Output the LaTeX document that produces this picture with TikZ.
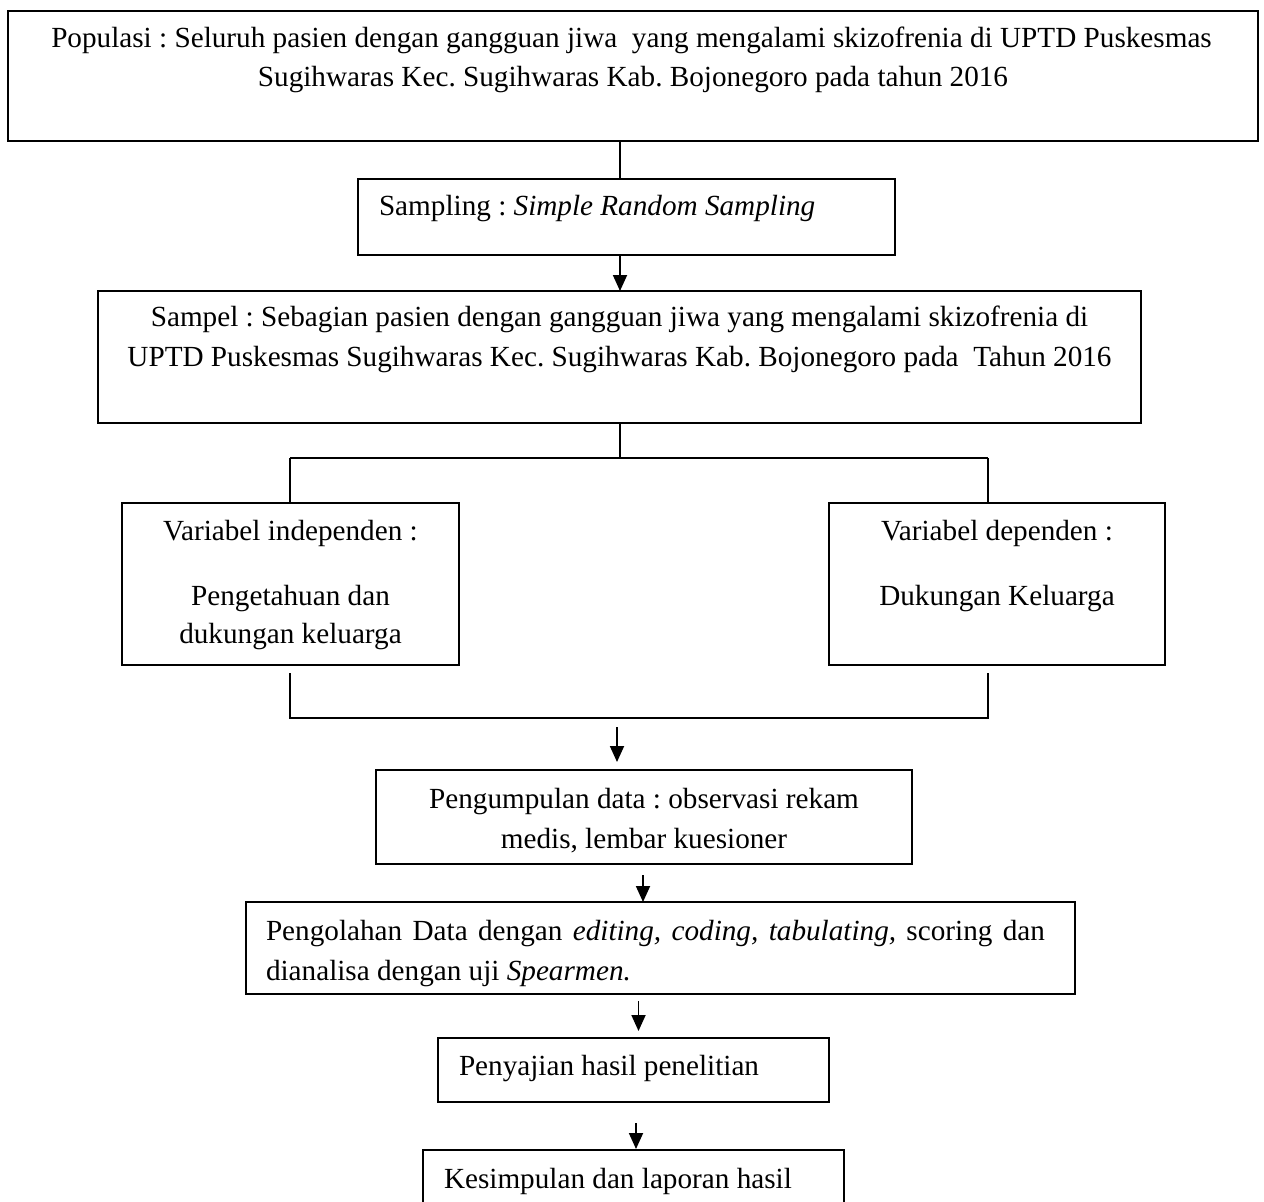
\documentclass[tikz,border=0pt]{standalone}
\usepackage{fontspec}
\setmainfont{Liberation Serif}
\usetikzlibrary{arrows.meta}
\frenchspacing
\begin{document}
\begin{tikzpicture}[x=1pt,y=-1pt,
  box/.style={draw, line width=2pt, inner sep=0pt, outer sep=0pt},
  txt/.style={inner sep=0pt, outer sep=0pt, font=\fontsize{29.2}{39}\selectfont},
  conn/.style={line width=1.4pt},
  arr/.style={line width=1.8pt, -{Triangle[width=14pt,length=16pt]}}]
\useasboundingbox (0,0) rectangle (1264,1202);
\clip (0,0) rectangle (1264,1202);
\fill[white] (0,0) rectangle (1264,1202);
% boxes
\node[box, minimum width=1250pt, minimum height=130pt] (pop) at (632.5,76) {};
\node[box, minimum width=537pt, minimum height=76pt] (samp) at (626.5,217) {};
\node[box, minimum width=1043pt, minimum height=132pt] (sampel) at (619.5,357) {};
\node[box, minimum width=337pt, minimum height=162pt] (indep) at (290.5,584) {};
\node[box, minimum width=336pt, minimum height=162pt] (dep) at (997,584) {};
\node[box, minimum width=536pt, minimum height=94pt] (kump) at (644,817) {};
\node[box, minimum width=829pt, minimum height=92pt] (olah) at (660.5,948) {};
\node[box, minimum width=391pt, minimum height=64pt] (saji) at (633.5,1070) {};
\node[box, minimum width=421pt, minimum height=100pt] (simp) at (633.5,1200) {};
% texts
\node[txt, anchor=base] (pop1) at (631.5,47) {Populasi : Seluruh pasien dengan gangguan jiwa\ \ yang mengalami skizofrenia di UPTD Puskesmas};
\node[txt, anchor=base] (pop2) at (633,86) {Sugihwaras Kec. Sugihwaras Kab. Bojonegoro pada tahun 2016};
\node[txt, anchor=base west] (samp1) at (379,215) {Sampling : \textit{Simple Random Sampling}};
\node[txt, anchor=base] (sampel1) at (619.5,326) {Sampel : Sebagian pasien dengan gangguan jiwa yang mengalami skizofrenia di};
\node[txt, anchor=base] (sampel2) at (619.5,366) {UPTD Puskesmas Sugihwaras Kec. Sugihwaras Kab. Bojonegoro pada\ \ Tahun 2016};
\node[txt, anchor=base] (indep1) at (290.5,540) {Variabel independen :};
\node[txt, anchor=base] (indep2) at (290.5,605) {Pengetahuan dan};
\node[txt, anchor=base] (indep3) at (290.5,643) {dukungan keluarga};
\node[txt, anchor=base] (dep1) at (997,540) {Variabel dependen :};
\node[txt, anchor=base] (dep2) at (997,605) {Dukungan Keluarga};
\node[txt, anchor=base] (kump1) at (644,808) {Pengumpulan data : observasi rekam};
\node[txt, anchor=base] (kump2) at (644,848) {medis, lembar kuesioner};
\node[txt, anchor=base west] (olah1) at (266,940) {\makebox[779pt][s]{Pengolahan Data dengan \textit{editing, coding, tabulating,} scoring dan}};
\node[txt, anchor=base west] (olah2) at (266,980) {dianalisa dengan uji \textit{Spearmen.}};
\node[txt, anchor=base west] (saji1) at (459,1075) {Penyajian hasil penelitian};
\node[txt, anchor=base west] (simp1) at (444,1188) {Kesimpulan dan laporan hasil};
% connector coordinates
\coordinate (a1) at (620,0);
\coordinate (jl) at (290,458);
\coordinate (jr) at (988,458);
\coordinate (bl) at (290,718);
\coordinate (br) at (988,718);
\coordinate (m) at (617,718);
\coordinate (a2) at (643,0);
\coordinate (a3) at (638.5,0);
\coordinate (a4) at (636,0);
% connectors
\draw[conn] (pop.south -| a1) -- (samp.north -| a1);
\draw[arr] (samp.south -| a1) -- (sampel.north -| a1);
\draw[conn] (sampel.south -| a1) -- (jl -| a1);
\draw[conn] (jl) -- (jr);
\draw[conn] (jl) -- (indep.north -| jl);
\draw[conn] (jr) -- (dep.north -| jr);
\draw[conn, shorten <=8pt, shorten >=8pt] (indep.south -| bl) -- (bl) -- (br) -- (dep.south -| br);
\draw[arr, shorten <=9pt, shorten >=8pt] (m) -- (kump.north -| m);
\draw[arr, shorten <=11pt] (kump.south -| a2) -- (olah.north -| a2);
\draw[arr, shorten <=7pt, shorten >=7pt] (olah.south -| a3) -- (saji.north -| a3);
\draw[arr, shorten <=21pt, shorten >=1pt] (saji.south -| a4) -- (simp.north -| a4);
\end{tikzpicture}
\end{document}
